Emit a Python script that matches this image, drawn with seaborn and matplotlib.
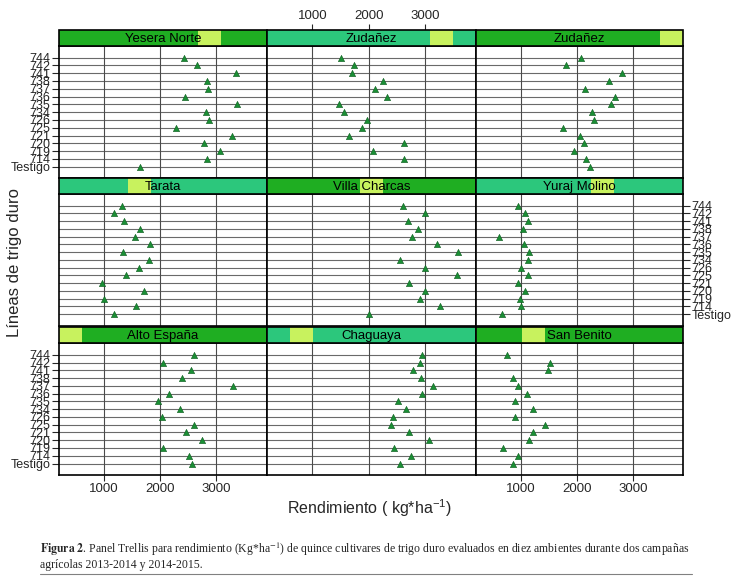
import numpy as np
import pandas as pd
import matplotlib.pyplot as plt
from matplotlib.patches import Rectangle
from matplotlib.lines import Line2D
import seaborn as sns

# lineas de trigo duro (de arriba hacia abajo)
lineas = ['744', '742', '741', '738', '737', '736', '735', '734', '726',
          '725', '721', '720', '719', '714', 'Testigo']

# ambientes en el orden de los paneles (fila superior -> inferior)
ambientes = ['Yesera Norte', 'Zudañez', 'Zudañez',
             'Tarata', 'Villa Charcas', 'Yuraj Molino',
             'Alto España', 'Chaguaya', 'San Benito']
nivel = [7, 8, 9, 4, 5, 6, 1, 2, 3]   # nivel del factor (de 9) marcado en el strip

yesera_norte = [2420, 2650, 3350, 2840, 2845, 2450, 3370, 2820, 2860, 2290, 3280, 2785, 3060, 2830, 1640]
zudanez_1 = [1500, 1730, 1705, 2245, 2105, 2315, 1470, 1565, 1965, 1880, 1645, 2630, 2070, 2615, np.nan]
zudanez_2 = [2080, 1800, 2800, 2580, 2145, 2675, 2600, 2260, 2305, 1755, 2055, 2125, 1940, 2155, 2235]
tarata = [1325, 1180, 1355, 1640, 1560, 1820, 1345, 1810, 1615, 1400, 970, 1720, 1005, 1565, 1170]
villa_charcas = [2605, 3000, 2695, 2865, 2760, 3205, 3585, 2555, 2990, 3555, 2720, 2990, 2910, 3260, 1995]
yuraj_molino = [950, 1065, 1120, 1030, 605, 1045, 1150, 1120, 1005, 1120, 945, 1075, 985, 995, 660]
alto_espana = [2600, 2055, 2545, 2385, 3300, 2150, 1955, 2350, 2040, 2600, 2465, 2750, 2055, 2515, 2565]
chaguaya = [2945, 2905, 2790, 2920, 3130, 2945, 2515, 2655, 2430, 2390, 2710, 3060, 2445, 2740, 2550]
san_benito = [750, 1510, 1475, 855, 950, 1100, 885, 1210, 895, 1430, 1210, 1145, 675, 940, 865]

valores = [yesera_norte, zudanez_1, zudanez_2, tarata, villa_charcas,
           yuraj_molino, alto_espana, chaguaya, san_benito]

ticks_x = [1000, 2000, 3000]
xlim = (195, 3900)

rows = []
for i, vals in enumerate(valores):
    for lin, v in zip(lineas, vals):
        rows.append({'panel': i, 'linea': lin, 'rendimiento': v})
df = pd.DataFrame(rows)

sns.set_style('white')
plt.rcParams['font.family'] = ['Liberation Sans', 'DejaVu Sans']
plt.rcParams['mathtext.fontset'] = 'stix'

W, H = 735, 578
fig = plt.figure(figsize=(W / 100, H / 100), dpi=100)

# layout en pixeles
col_x = [(58.7, 267.0), (267.0, 476.0), (476.0, 683.3)]
row_y = [(46.0, 178.3), (194.3, 325.5), (343.3, 475.0)]   # (arriba, abajo) de cada panel
strip_h = 16.0

dark_strip = '#1fae22'
teal_strip = '#2cc77c'
high_col = '#c8f25e'

for i in range(9):
    r, c = divmod(i, 3)
    x0, x1 = col_x[c]
    yt, yb = row_y[r]
    ax = fig.add_axes([x0 / W, 1 - yb / H, (x1 - x0) / W, (yb - yt) / H])
    sub = df[df['panel'] == i]

    for k in range(len(lineas)):
        ax.axhline(k, color='#6a6a6a', lw=0.8, zorder=1)
    for t in ticks_x:
        ax.axvline(t, color='#4a4a4a', lw=0.8, zorder=1)

    sns.stripplot(data=sub, x='rendimiento', y='linea', order=lineas,
                  jitter=False, marker='^', color='#1a8f35', size=4.5,
                  linewidth=0.4, edgecolor='#0b5a1c', ax=ax, zorder=3)

    ax.set_xlim(*xlim)
    ax.set_ylim(len(lineas) - 1 + 1.48, -1.48)
    ax.set_xticks(ticks_x)
    ax.set_yticks(range(len(lineas)))
    ax.set_yticklabels(lineas)
    ax.set_xlabel('')
    ax.set_ylabel('')
    for s in ax.spines.values():
        s.set_color('black')
        s.set_linewidth(1.2)

    bot = (r == 2 and c != 1)
    left = (c == 0 and r != 1)
    right = (c == 2 and r == 1)
    ax.tick_params(axis='x', bottom=bot, labelbottom=bot, top=False, labeltop=False,
                   direction='out', length=4, width=0.8, labelsize=9.5, pad=2)
    ax.tick_params(axis='y', left=left, labelleft=left, right=right, labelright=right,
                   direction='out', length=5, width=0.8, labelsize=9, pad=1)

    # strip con el nombre del ambiente
    sx, sy, sw = x0 / W, 1 - yt / H, (x1 - x0) / W
    sh = strip_h / H
    fc = dark_strip if (r + c) % 2 == 0 else teal_strip
    fig.add_artist(Rectangle((sx, sy), sw, sh, transform=fig.transFigure,
                             fc=fc, ec='none'))
    fig.add_artist(Rectangle((sx + (nivel[i] - 1) / 9 * sw, sy), sw / 9, sh,
                             transform=fig.transFigure, fc=high_col, ec='none'))
    fig.add_artist(Rectangle((sx, sy), sw, sh, transform=fig.transFigure,
                             fc='none', ec='black', lw=1.2))
    fig.text(sx + sw / 2, sy + sh / 2 - 0.002, ambientes[i], ha='center', va='center',
             fontsize=9.5, color='black')

    # eje superior (por encima del strip) solo en la columna central
    if r == 0 and c == 1:
        axt = fig.add_axes([sx, sy, sw, sh], facecolor='none')
        axt.set_xlim(*xlim)
        axt.set_xticks(ticks_x)
        axt.set_yticks([])
        for s in axt.spines.values():
            s.set_visible(False)
        axt.tick_params(axis='x', bottom=False, labelbottom=False, top=True,
                        labeltop=True, direction='out', length=4, width=0.8,
                        labelsize=9.5, pad=2)

fig.text(370 / W, 1 - 508 / H, r'Rendimiento ( kg*ha$^{\mathregular{-1}}$)',
         ha='center', va='center', fontsize=11.5)
fig.text(15 / W, 1 - 262 / H, 'Líneas de trigo duro', rotation=90,
         ha='center', va='center', fontsize=12)

cap1 = (r'$\mathbf{Figura\ 2}$. Panel Trellis para rendimiento (Kg*ha$^{-1}$) de quince '
        'cultivares de trigo duro evaluados en diez ambientes durante dos campañas')
cap2 = 'agrícolas 2013-2014 y 2014-2015.'
fig.text(40 / W, 1 - 549 / H, cap1, ha='left', va='center', fontsize=8.5,
         family='Liberation Serif')
fig.text(40 / W, 1 - 565 / H, cap2, ha='left', va='center', fontsize=8.5,
         family='Liberation Serif')
fig.add_artist(Line2D([40 / W, 692 / W], [1 - 574 / H, 1 - 574 / H],
                      transform=fig.transFigure, color='#808080', lw=0.8))

fig.savefig('out.png', dpi=100)
